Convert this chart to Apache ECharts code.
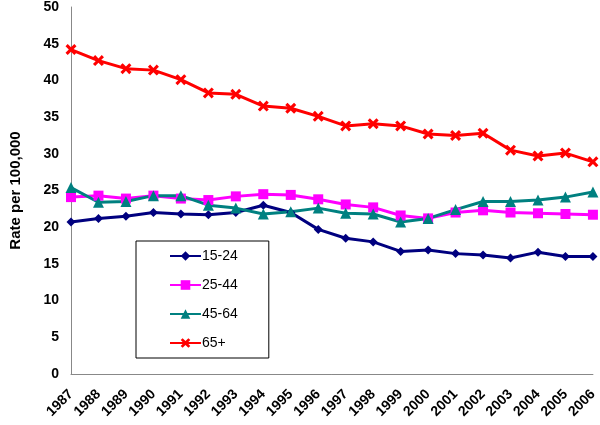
<!DOCTYPE html>
<html><head><meta charset="utf-8">
<script src="https://cdn.jsdelivr.net/npm/echarts@6/dist/echarts.min.js"></script>
<style>html,body{margin:0;padding:0;background:#fff}#c{width:600px;height:425px}</style>
</head><body><div id="c"></div>
<script>
const years = ['1987','1988','1989','1990','1991','1992','1993','1994','1995','1996','1997','1998','1999','2000','2001','2002','2003','2004','2005','2006'];
const s15_24 = [20.7,21.2,21.5,22.0,21.8,21.7,22.0,23.0,22.0,19.7,18.5,18.0,16.7,16.9,16.4,16.2,15.8,16.6,16.0,16.0];
const s25_44 = [24.1,24.3,23.9,24.3,23.9,23.7,24.2,24.5,24.4,23.8,23.1,22.7,21.6,21.2,22.0,22.3,22.0,21.9,21.8,21.7];
const s45_64 = [25.4,23.4,23.5,24.3,24.3,23.0,22.6,21.8,22.1,22.6,21.9,21.8,20.7,21.2,22.4,23.5,23.5,23.7,24.1,24.8];
const s65 = [44.2,42.7,41.6,41.4,40.1,38.3,38.1,36.5,36.2,35.1,33.8,34.1,33.8,32.7,32.5,32.8,30.5,29.7,30.1,28.9];
const yTicks = [0,5,10,15,20,25,30,35,40,45,50];

const xPath = 'path://M0,2 L2,0 L5,3 L8,0 L10,2 L7,5 L10,8 L8,10 L5,7 L2,10 L0,8 L3,5 Z';
function mk(name, data, color, symbol, size){
  return {name, type:'line', data, symbol, symbolSize:size, showAllSymbol:true,
    lineStyle:{color, width:3}, itemStyle:{color}, animation:false};
}
const chart = echarts.init(document.getElementById('c'));
chart.setOption({
  animation:false,
  grid:{left:67,right:3,top:6,bottom:51,containLabel:false},
  xAxis:{type:'category',data:years,boundaryGap:false,
    axisLine:{lineStyle:{color:'#888',width:1}},axisTick:{show:false},
    axisLabel:{rotate:45,fontFamily:'Liberation Sans, Arial',fontWeight:'bold',fontSize:14,color:'#000',margin:18,interval:0}},
  yAxis:{type:'value',min:yTicks[0],max:yTicks[yTicks.length-1],interval:5,
    name:'Rate per 100,000',nameLocation:'middle',nameGap:48,
    nameTextStyle:{fontFamily:'Liberation Sans, Arial',fontWeight:'bold',fontSize:15,color:'#000'},
    axisLine:{show:true,lineStyle:{color:'#888',width:1}},axisTick:{show:false},splitLine:{show:false},
    axisLabel:{fontFamily:'Liberation Sans, Arial',fontWeight:'bold',fontSize:14,color:'#000',margin:12}},
  legend:{orient:'vertical',left:136,top:241,itemGap:15,itemWidth:31,itemHeight:12,
    padding:[8,31,8,33],borderColor:'#000',borderWidth:1,backgroundColor:'#fff',
    textStyle:{fontFamily:'Liberation Sans, Arial',fontSize:14,color:'#000',padding:[0,0,0,-4]},
    data:['15-24','25-44','45-64','65+']},
  series:[
    mk('15-24',s15_24,'#00007f','diamond',9),
    mk('25-44',s25_44,'#ff00ff','rect',10),
    mk('45-64',s45_64,'#008080','triangle',11),
    mk('65+',s65,'#ff0000',xPath,11)
  ]
});
</script></body></html>
